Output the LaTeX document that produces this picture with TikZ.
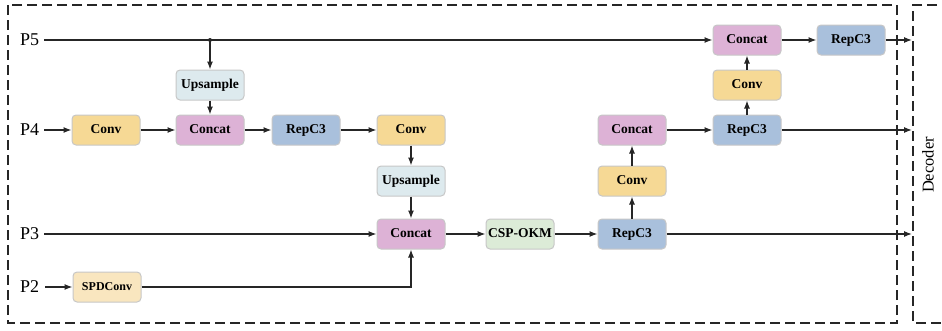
\documentclass[tikz,border=0pt]{standalone}
\usepackage{fontspec}
\setmainfont{Liberation Serif}
\usetikzlibrary{arrows.meta}
\definecolor{convc}{HTML}{F6D995}
\definecolor{concatc}{HTML}{DDB2D6}
\definecolor{repc}{HTML}{A9C0DC}
\definecolor{upc}{HTML}{DDEAEE}
\definecolor{cspc}{HTML}{DCEBD7}
\definecolor{spdc}{HTML}{F9E6BF}
\definecolor{linec}{HTML}{262626}
\tikzset{
  blk/.style={draw=black!22, line width=1pt, rounded corners=4pt,
    minimum width=68pt, minimum height=30pt, inner sep=0pt,
    text height=9.5pt, text depth=2.5pt,
    font=\fontsize{13.5}{15}\selectfont\bfseries},
  convb/.style={blk, fill=convc},
  concatb/.style={blk, fill=concatc},
  repb/.style={blk, fill=repc},
  upb/.style={blk, fill=upc},
  cspb/.style={blk, fill=cspc},
  spdb/.style={blk, fill=spdc, font=\fontsize{12}{13}\selectfont\bfseries},
  arr/.style={-{Latex[length=8pt,width=6pt]}, line width=1.2pt, draw=linec},
  lbl/.style={font=\fontsize{18}{20}\selectfont, inner sep=0pt, anchor=west},
  frame/.style={dashed, dash pattern=on 10pt off 5pt, line width=1.2pt, draw=linec}
}
\begin{document}
\begin{tikzpicture}[x=1pt,y=-1pt]
\useasboundingbox (0,0) rectangle (942,330);
% frames
\draw[frame] (8,5) rectangle (897,323);
\draw[frame] (952,5) -- (913,5) -- (913,323) -- (952,323);
\node[rotate=90, font=\fontsize{16.5}{18}\selectfont, inner sep=0pt] (dec) at (928,165) {Decoder};
% labels
\node[lbl] (p5) at (20,40) {P5};
\node[lbl] (p4) at (20,130) {P4};
\node[lbl] (p3) at (20,234) {P3};
\node[lbl] (p2) at (20,287) {P2};
% nodes
\node[upb] (up1) at (210,85) {Upsample};
\node[convb] (conv1) at (106,130) {Conv};
\node[concatb] (cat1) at (210,130) {Concat};
\node[repb] (rep1) at (306,130) {RepC3};
\node[convb] (conv2) at (411,130) {Conv};
\node[upb] (up2) at (411,181) {Upsample};
\node[concatb] (cat2) at (411,234) {Concat};
\node[cspb] (csp) at (520,234) {CSP-OKM};
\node[repb] (rep2) at (632,234) {RepC3};
\node[convb] (conv3) at (632,181) {Conv};
\node[concatb] (cat3) at (632,130) {Concat};
\node[repb] (rep3) at (747,130) {RepC3};
\node[convb] (conv4) at (747,85) {Conv};
\node[concatb] (cat4) at (747,40) {Concat};
\node[repb] (rep4) at (851,40) {RepC3};
\node[spdb] (spd) at (107,287) {SPDConv};
% decoder inputs
\coordinate (d5) at (912,40);
\coordinate (d4) at (912,130);
\coordinate (d3) at (912,234);
\coordinate (j5) at (210,40);
% connectors
\draw[arr] ([xshift=5pt]p5.east) -- (cat4.west);
\fill[linec] (j5) circle (2pt);
\draw[arr] (j5) -- (up1.north);
\draw[arr] ([xshift=5pt]p4.east) -- (conv1.west);
\draw[arr] (conv1) -- (cat1);
\draw[arr] (up1) -- (cat1);
\draw[arr] (cat1) -- (rep1);
\draw[arr] (rep1) -- (conv2);
\draw[arr] (conv2) -- (up2);
\draw[arr] (up2) -- (cat2);
\draw[arr] ([xshift=5pt]p3.east) -- (cat2.west);
\draw[arr] ([xshift=6pt]p2.east) -- (spd.west);
\draw[arr] (spd.east) -| (cat2.south);
\draw[arr] (cat2) -- (csp);
\draw[arr] (csp) -- (rep2);
\draw[arr] (rep2) -- (conv3);
\draw[arr] (conv3) -- (cat3);
\draw[arr] (cat3) -- (rep3);
\draw[arr] (rep3) -- (conv4);
\draw[arr] (conv4) -- (cat4);
\draw[arr] (cat4) -- (rep4);
\draw[arr] (rep4.east) -- (d5);
\draw[arr] (rep3.east) -- (d4);
\draw[arr] (rep2.east) -- (d3);
\end{tikzpicture}
\end{document}
